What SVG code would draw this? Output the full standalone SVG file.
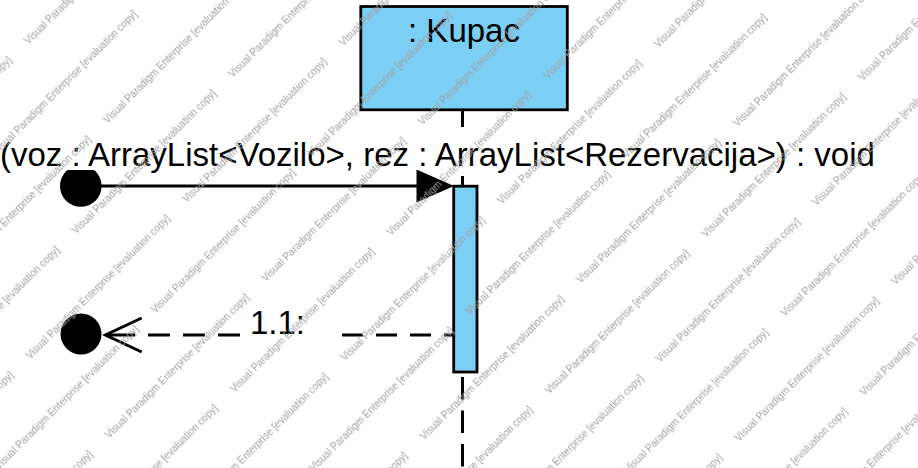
<svg xmlns="http://www.w3.org/2000/svg" width="918" height="468" viewBox="0 0 918 468">
<style>
.box{fill:#7BCFF4;stroke:#000;stroke-width:2.8}
.lbl{font-family:"Liberation Sans",Arial,sans-serif;font-size:33px;fill:#000}
.ln{stroke:#000;stroke-width:3;fill:none}
.wm{font-family:"Liberation Sans",Arial,sans-serif;font-size:10px;fill:#a0a0a0}
</style>
<defs>
<pattern id="wmark" patternUnits="userSpaceOnUse" x="210" y="32" width="221.5" height="111.9" patternTransform="rotate(-45)">
<text class="wm" x="0" y="20">Visual Paradigm Enterprise [evaluation copy]</text>
<text class="wm" x="121" y="75.95">Visual Paradigm Enterprise [evaluation copy]</text>
<text class="wm" x="-100.5" y="75.95">Visual Paradigm Enterprise [evaluation copy]</text>
</pattern>
</defs>
<rect width="918" height="468" fill="#fff"/>
<g id="kupac">
<line class="ln" x1="462.5" y1="109" x2="462.5" y2="468" stroke-dasharray="22.5 11"/>
<rect class="box" x="360.8" y="6.5" width="206.5" height="103.3"/>
<text class="lbl" x="464" y="41.5" text-anchor="middle">: Kupac</text>
</g>
<g id="activation">
<rect class="box" x="453.7" y="186.2" width="23.3" height="185.8"/>
</g>
<g id="found">
<circle cx="80.8" cy="186" r="20.8" fill="#000"/>
</g>
<g id="lost">
<circle cx="81" cy="334" r="20.5" fill="#000"/>
</g>
<g id="connectors">
<line class="ln" x1="101" y1="186" x2="418" y2="186"/>
<polygon points="454,186 416.5,169.5 416.5,202.5" fill="#000"/>
<line class="ln" x1="240" y1="335" x2="105" y2="335" stroke-dasharray="22 13 22 13 22 13 30"/>
<line class="ln" x1="342" y1="335" x2="453" y2="335" stroke-dasharray="21 13"/>
<polyline class="ln" points="141.7,318 105.5,335 141.7,352"/>
</g>
<g id="labels">
<rect x="-10" y="127" width="895" height="43" fill="#fff"/>
<text class="lbl" x="0" y="165.5">(voz : ArrayList&lt;Vozilo&gt;, rez : ArrayList&lt;Rezervacija&gt;) : void</text>
<text class="lbl" x="250" y="333.5">1.1:</text>
</g>
<rect width="918" height="468" fill="url(#wmark)"/>
</svg>
